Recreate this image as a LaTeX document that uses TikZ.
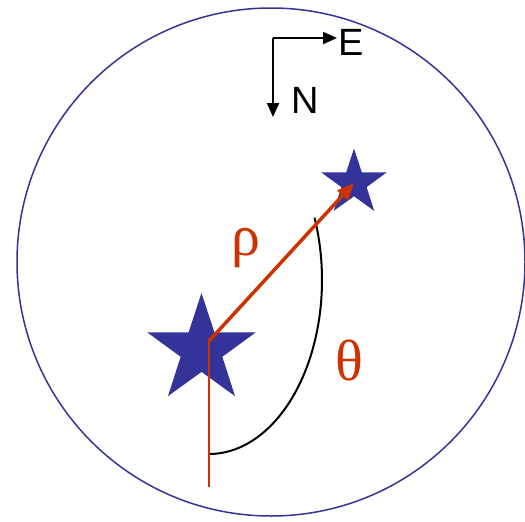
\documentclass[tikz,border=0pt]{standalone}
\usepackage{fontspec}
\setmainfont{Liberation Serif}
\newfontfamily\labelfont{Liberation Sans}
\usetikzlibrary{shapes.geometric,arrows.meta}
\definecolor{navy}{RGB}{51,51,153}
\definecolor{rust}{RGB}{204,51,0}
\begin{document}
\begin{tikzpicture}[x=1pt, y=-1pt,
        starnode/.style={star, star points=5, star point ratio=2.6,
          fill=navy, draw=none, inner sep=0pt},
        comp/.style={-{Triangle[length=14pt,width=12pt]}, line width=2pt},
        dirlbl/.style={font=\labelfont\fontsize{38}{38}\selectfont, inner sep=0pt},
        greek/.style={font=\fontsize{58}{58}\selectfont, rust, inner sep=0pt},
      ]
        \useasboundingbox (0,0) rectangle (525,522);

        % field of view
        \draw[navy, line width=1.5pt] (271,262) circle (254);

        % compass
        \coordinate (c0) at (273,38);
        \coordinate (cE) at (337,38);
        \coordinate (cN) at (273,117);
        \draw[comp] (c0) -- (cE);
        \draw[comp] (c0) -- (cN);
        \node[dirlbl] (lblE) at (351,42) {E};
        \node[dirlbl] (lblN) at (305,100) {N};

        % stars
        \node[starnode, minimum size=114pt] (primary) at (201.5,350) {};
        \node[starnode, minimum size=69pt]  (second)  at (354,183) {};
        \coordinate (o) at (209,341);
        \coordinate (down) at (209,487);

        % position angle arc
        \draw[black, line width=2pt] (209,454) arc[start angle=90, end angle=-21,
          x radius=113, y radius=174];

        % separation and reference direction
        \draw[rust, line width=2pt] (o) -- (down);
        \draw[rust, line width=3.5pt, -{Triangle[length=17pt,width=14pt]}] (o) -- (second.center);
        \node[greek] (rho) at (246,248) {ρ};
        \node[greek] (theta) at (349,361) {θ};
      \end{tikzpicture}
\end{document}
